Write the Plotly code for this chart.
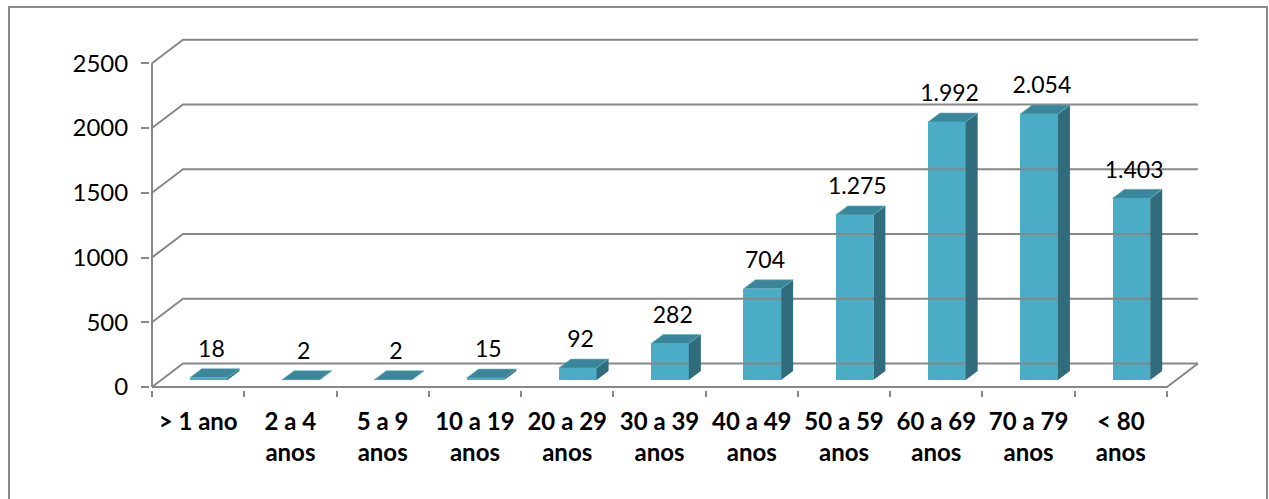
import plotly.graph_objects as go

# ---- data ----
categories = ["> 1 ano", "2 a 4<br>anos", "5 a 9<br>anos", "10 a 19<br>anos", "20 a 29<br>anos",
              "30 a 39<br>anos", "40 a 49<br>anos", "50 a 59<br>anos", "60 a 69<br>anos",
              "70 a 79<br>anos", "< 80<br>anos"]
values = [18, 2, 2, 15, 92, 282, 704, 1275, 1992, 2054, 1403]
y_ticks = [0, 500, 1000, 1500, 2000, 2500]

# ---- geometry (pixel-derived, in axis units) ----
PX_X = 92.27          # px per category
PX_Y = 0.1295         # px per value unit
n = len(categories)
WALL_DX = 31 / PX_X   # depth of the 3D box
WALL_DY = 23.5 / PX_Y
BAR_OFF = 37.8 / PX_X # front-face left offset within a category
BAR_W = 37.7 / PX_X
BAR_BASE = 7 / PX_Y
BAR_DX = 12 / PX_X
BAR_DY = 9 / PX_Y

GRID = "#878787"
FRONT = "#4BACC6"
SIDE = "#316C7C"
TOP = "#3A869A"
FONT = "Lato"

fig = go.Figure()

# walls: diagonals + back gridlines
gx, gy = [], []
for v in y_ticks:
    gx += [0, WALL_DX, n + WALL_DX, None]
    gy += [v, v + WALL_DY, v + WALL_DY, None]
# floor front edge, right edge, front vertical axis
gx += [0, n, n + WALL_DX, None, 0, 0]
gy += [0, 0, WALL_DY, None, 0, y_ticks[-1]]
fig.add_trace(go.Scatter(x=gx, y=gy, mode="lines", line=dict(color=GRID, width=2),
                         hoverinfo="skip", showlegend=False))

centers = [i + BAR_OFF + BAR_W / 2 for i in range(n)]

# front faces
fig.add_trace(go.Bar(x=centers, y=values, base=[BAR_BASE] * n, width=[BAR_W] * n,
                     marker=dict(color=FRONT, line=dict(width=0)), showlegend=False,
                     hoverinfo="skip"))

# side and top faces
sx, sy, tx, ty = [], [], [], []
for c, v in zip(centers, values):
    xl, xr = c - BAR_W / 2, c + BAR_W / 2
    yb, yt = BAR_BASE, BAR_BASE + v
    sx += [xr, xr, xr + BAR_DX, xr + BAR_DX, xr, None]
    sy += [yb, yt, yt + BAR_DY, yb + BAR_DY, yb, None]
    tx += [xl, xr, xr + BAR_DX, xl + BAR_DX, xl, None]
    ty += [yt, yt, yt + BAR_DY, yt + BAR_DY, yt, None]
fig.add_trace(go.Scatter(x=sx, y=sy, mode="lines", fill="toself", fillcolor=SIDE,
                         line=dict(width=0, color=SIDE), hoverinfo="skip", showlegend=False))
fig.add_trace(go.Scatter(x=tx, y=ty, mode="lines", fill="toself", fillcolor=TOP,
                         line=dict(width=0.6, color="#5FB3C8"), hoverinfo="skip", showlegend=False))

# data labels
fig.add_trace(go.Scatter(
    x=[c + 0.03 for c in centers],
    y=[BAR_BASE + v + BAR_DY + 6 / PX_Y for v in values],
    mode="text", text=[f"{v:,}".replace(",", ".") for v in values],
    textposition="top center", textfont=dict(family=FONT, size=23, color="#000000"),
    hoverinfo="skip", showlegend=False, cliponaxis=False))

# axes ranges from pixel layout
L, R, T, B = 150, 1202, 30, 390
xmin = -(152 - L) / PX_X
xmax = xmin + (R - L) / PX_X
ymin = -(B - 387) * 1 / PX_Y
ymax = ymin + (B - T) / PX_Y

fig.update_layout(
    width=1269, height=499,
    margin=dict(l=L, r=1269 - R, t=T, b=499 - B, autoexpand=False),
    plot_bgcolor="white", paper_bgcolor="white",
    bargap=0,
    xaxis=dict(range=[xmin, xmax], tickmode="array", tickvals=list(range(n + 1)),
               showticklabels=False, ticks="outside", ticklen=6, tickwidth=2, tickcolor=GRID,
               showgrid=False, zeroline=False, showline=False, fixedrange=True),
    xaxis2=dict(range=[xmin, xmax], overlaying="x", anchor="y", side="bottom",
                tickmode="array", tickvals=[i + 0.5 for i in range(n)], ticktext=categories,
                ticks="", ticklabelstandoff=15,
                tickfont=dict(family=FONT, size=24, color="#000000", weight="bold"),
                showgrid=False, zeroline=False, showline=False, fixedrange=True),
    yaxis=dict(range=[ymin, ymax], tickmode="array", tickvals=y_ticks,
               ticks="outside", ticklen=8, tickwidth=2, tickcolor=GRID, ticklabelstandoff=8,
               tickfont=dict(family=FONT, size=24, color="#000000"),
               showgrid=False, zeroline=False, showline=False, fixedrange=True),
    shapes=[dict(type="rect", xref="paper", yref="paper",
                 x0=(9 - L) / (R - L), x1=(1267 - L) / (R - L),
                 y0=(B - 520) / (B - T), y1=(B - 7) / (B - T),
                 line=dict(color="#8A8A8A", width=2), fillcolor="rgba(0,0,0,0)", layer="below")],
)
# dummy trace to activate xaxis2
fig.add_trace(go.Scatter(x=[xmin], y=[ymin], xaxis="x2", mode="markers",
                         marker=dict(opacity=0), hoverinfo="skip", showlegend=False))

fig.write_html("out.html", config={"displayModeBar": False},
               post_script="document.body.style.margin='0';document.body.style.overflow='hidden';")
